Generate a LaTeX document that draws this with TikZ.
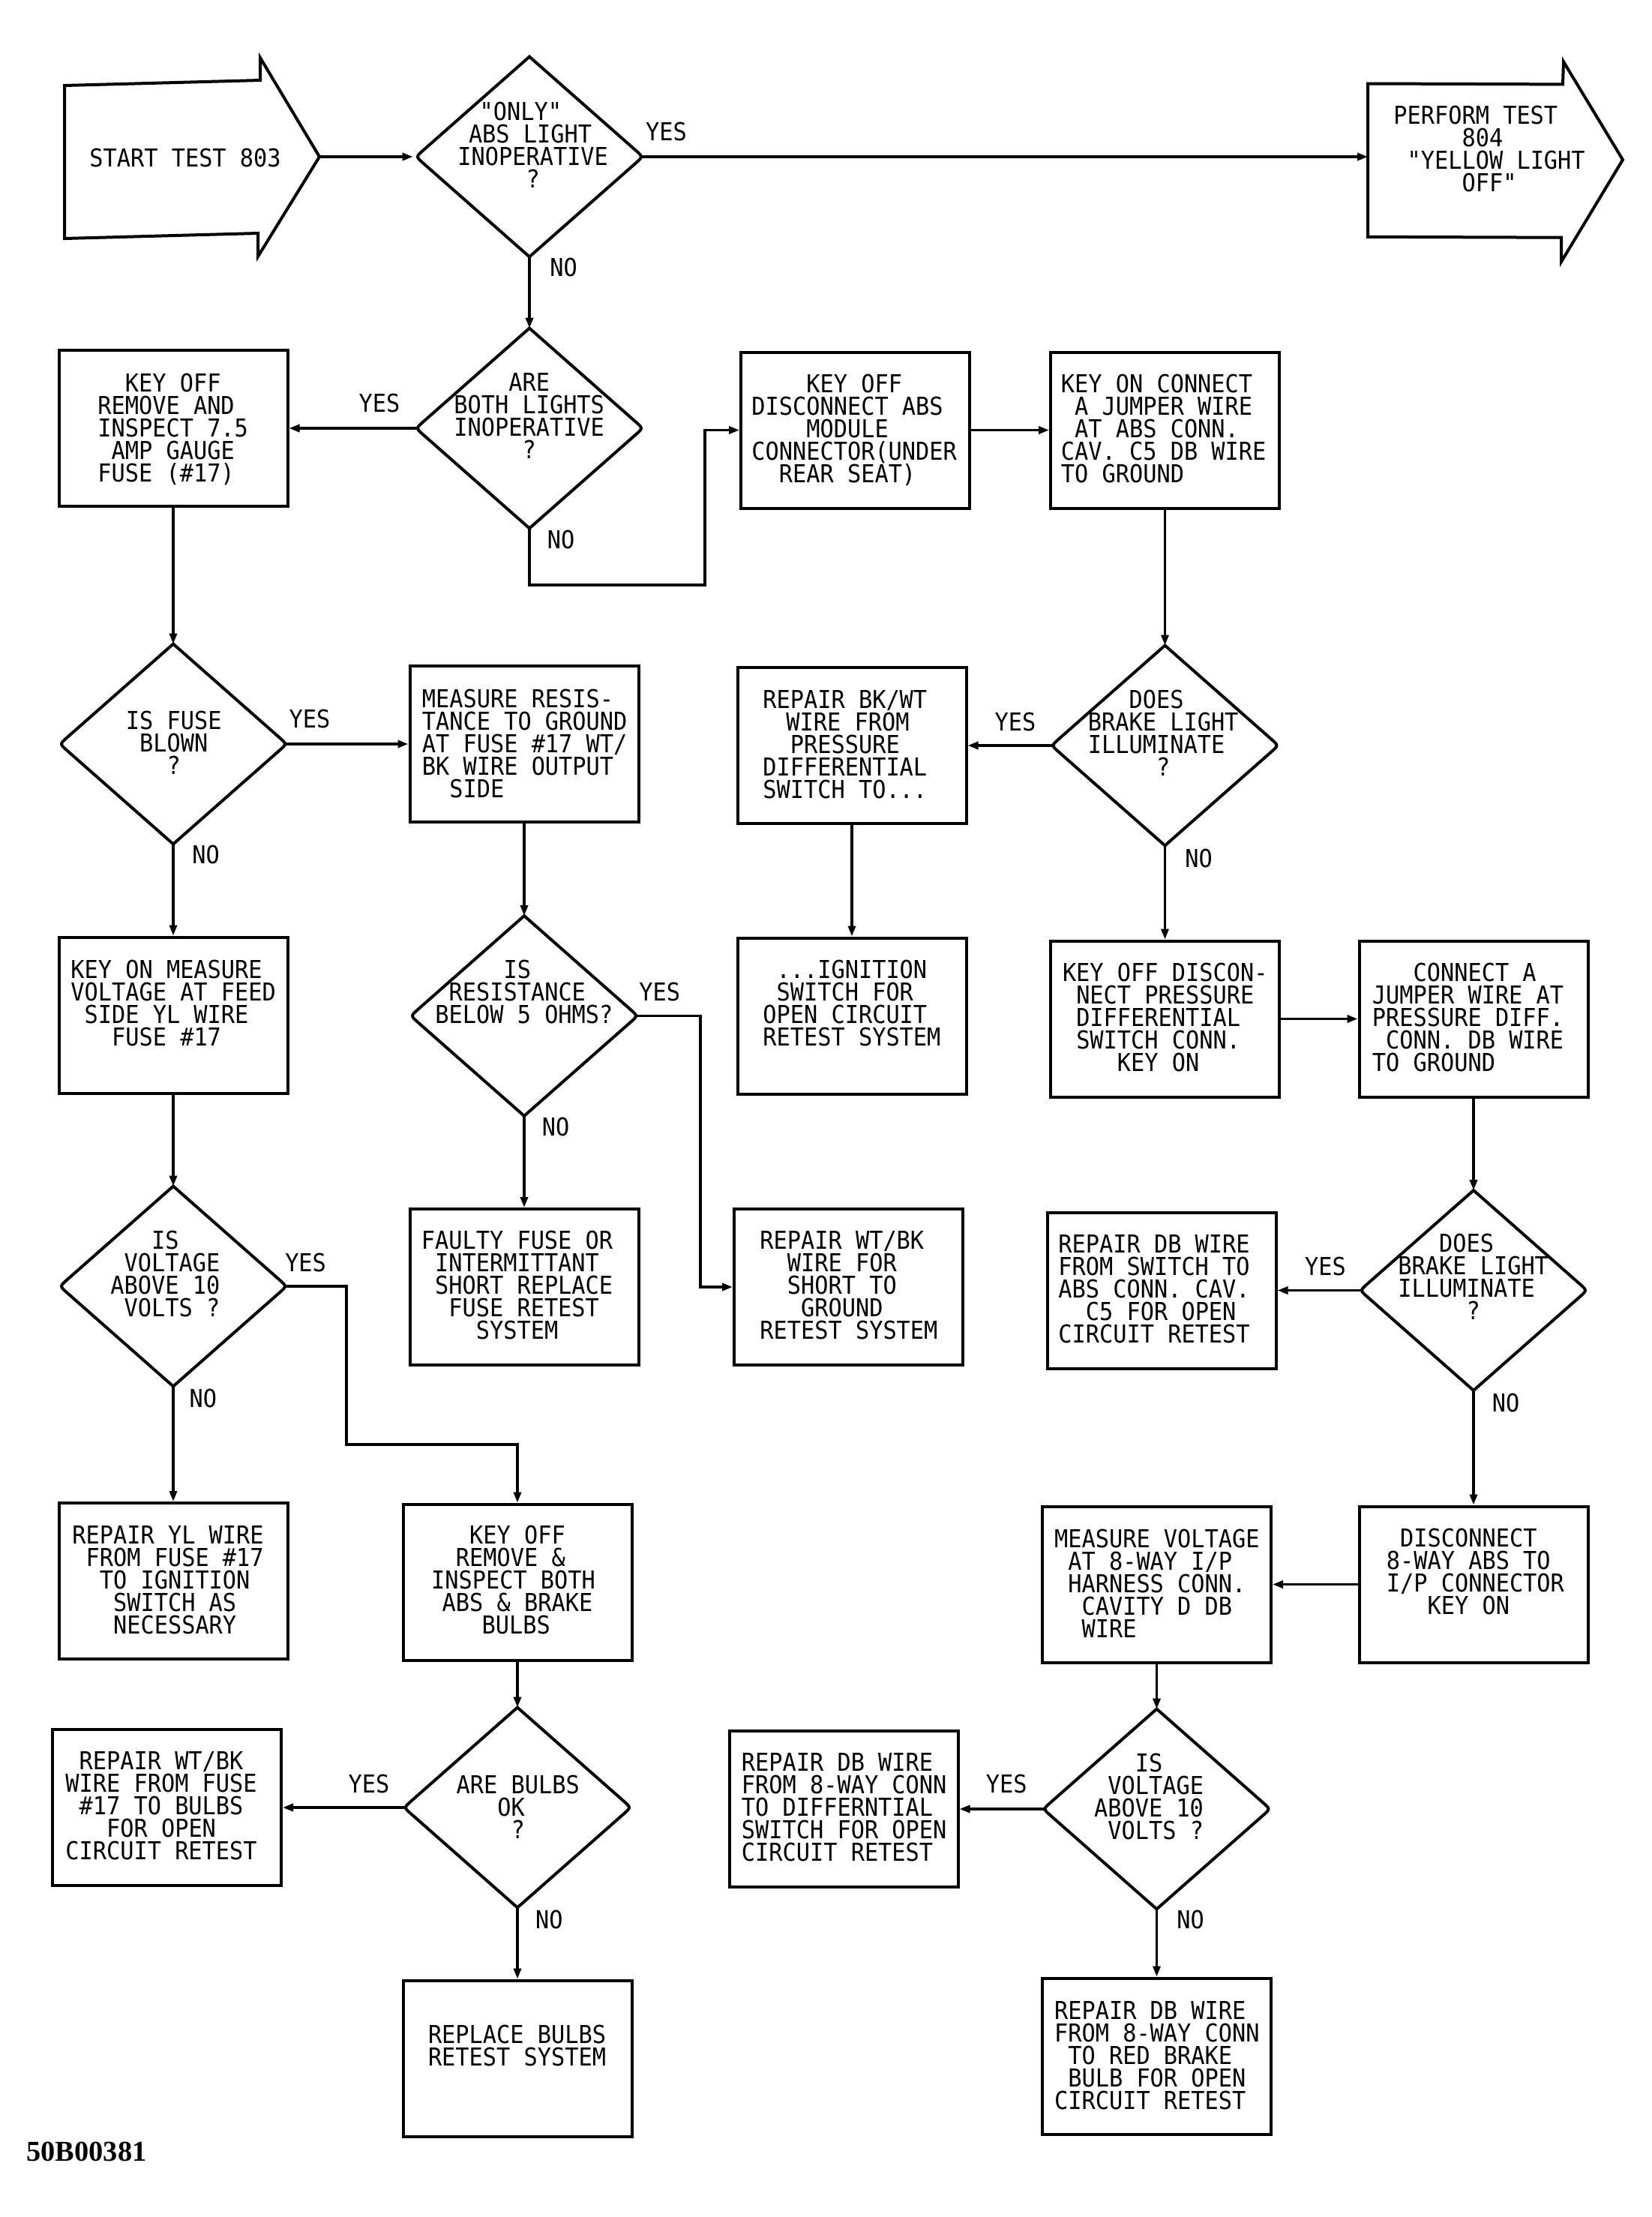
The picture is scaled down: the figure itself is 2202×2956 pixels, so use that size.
\documentclass[tikz,border=0pt]{standalone}
\usepackage{fontspec}
\usetikzlibrary{arrows.meta,calc,shapes.geometric}
\newfontfamily\cadfam{DejaVu Sans Mono}[FakeStretch=0.92]
\newfontfamily\codefam{Liberation Serif}
\newlength\chw
\setlength\chw{9.12pt}
\newcommand\cadfont{\cadfam\fontsize{16.46pt}{15pt}\selectfont\lineskiplimit=-50pt\lineskip=0pt\relax}
\newcommand\indc[1]{\hspace*{#1\chw}}
\newcommand\firstl{\rule{0pt}{0.8em}}
\newcommand\boxtxt[4]{\node[txt] (#1) at (#2-2,#3-14.34) {\firstl#4};}
\newcommand\diaout[1]{\draw[outl] (#1.north) -- ($(#1.west)!0.065!(#1.north)$) .. controls (#1.west) .. ($(#1.west)!0.065!(#1.south)$) -- (#1.south) -- ($(#1.east)!0.065!(#1.south)$) .. controls (#1.east) .. ($(#1.east)!0.065!(#1.north)$) -- cycle;}
\tikzset{
  outl/.style={line width=2pt, line join=miter},
  conn/.style={line width=1.7pt},
  arr/.style={conn, -{Triangle[length=7pt,width=5pt]}},
  box/.style={draw, line width=2pt, rectangle, inner sep=0pt, minimum width=152.5pt, minimum height=104pt},
  dia/.style={diamond, inner sep=0pt, minimum width=151pt, minimum height=133pt},
  txt/.style={inner sep=0pt, font=\cadfont, align=left, anchor=north west},
  lbl/.style={inner sep=0pt, font=\cadfont},
}
\begin{document}
\begin{tikzpicture}[x=0.5pt,y=-0.5pt]
\fill[white] (0,0) rectangle (2202,2956);
\useasboundingbox (0,0) rectangle (2202,2956);

% ---- start and end arrows
\draw[outl] (86,114) -- (347,107) -- (347,77) -- (426,209) -- (344,342) -- (344,311) -- (86,318) -- cycle;
\coordinate (stip) at (426,209);
\draw[outl] (1824,111.5) -- (2084,112.4) -- (2085,82.3) -- (2164,213) -- (2082,349) -- (2082,316.7) -- (1824,315.8) -- cycle;
\coordinate (pin) at (1824,209);

% ---- diamonds
\node[dia] (D1) at (706,209) {};
\node[dia] (D2) at (706,571) {};
\node[dia] (D3) at (231,992) {};
\node[dia] (D4) at (1553.5,994) {};
\node[dia] (D5) at (699,1354.5) {};
\node[dia] (D6) at (231,1715) {};
\node[dia] (D7) at (1965,1720.5) {};
\node[dia] (D8) at (690,2410) {};
\node[dia] (D9) at (1542.5,2412) {};
\foreach \d in {D1,D2,D3,D4,D5,D6,D7,D8,D9} {\diaout{\d}}

% ---- boxes
\node[box] (B1) at (231,571) {};
\node[box] (B2) at (1140.5,573.5) {};
\node[box] (B3) at (1553.5,573.5) {};
\node[box] (B4) at (699,992) {};
\node[box] (B5) at (1136,994) {};
\node[box] (B6) at (231,1353.5) {};
\node[box] (B7) at (1136,1354.5) {};
\node[box] (B8) at (1553.5,1358.5) {};
\node[box] (B9) at (1965,1358.5) {};
\node[box] (B10) at (699,1716) {};
\node[box] (B11) at (1131.5,1716) {};
\node[box] (B12) at (1549,1720.5) {};
\node[box] (B13) at (231,2108) {};
\node[box] (B14) at (690,2109.5) {};
\node[box] (B15) at (1542.5,2112.5) {};
\node[box] (B16) at (1965,2112.5) {};
\node[box] (B17) at (222.5,2410) {};
\node[box] (B18) at (1125,2412) {};
\node[box] (B19) at (690,2744.5) {};
\node[box] (B20) at (1542.5,2741.5) {};

% ---- bend points
\coordinate (k1) at (940,780);
\coordinate (k2) at (934,1500);
\coordinate (k3) at (462,1926);

% ---- connectors
\draw[arr, shorten >=2pt] (stip) -- (D1.west);
\draw[arr] ([xshift=-2pt]D1.east) -- (pin);
\draw[arr] (D1.south) -- (D2.north);
\draw[arr] ([xshift=2pt]D2.west) -- (B1.east);
\draw[arr] (D2.south) |- (k1) |- (B2.west);
\draw[arr] (B2.east) -- (B3.west);
\draw[arr] (B3.south) -- (D4.north);
\draw[arr] ([xshift=2pt]D4.west) -- (B5.east);
\draw[arr] (B5.south) -- (B7.north);
\draw[arr] (D4.south) -- (B8.north);
\draw[arr] (B8.east) -- (B9.west);
\draw[arr] (B9.south) -- (D7.north);
\draw[arr] ([xshift=2pt]D7.west) -- (B12.east);
\draw[arr] (D7.south) -- (B16.north);
\draw[arr] (B16.west) -- (B15.east);
\draw[arr] (B15.south) -- (D9.north);
\draw[arr] ([xshift=2pt]D9.west) -- (B18.east);
\draw[arr] (D9.south) -- (B20.north);
\draw[arr] (B1.south) -- (D3.north);
\draw[arr] ([xshift=-2pt]D3.east) -- (B4.west);
\draw[arr] (D3.south) -- (B6.north);
\draw[arr] (B4.south) -- (D5.north);
\draw[arr] ([xshift=-2pt]D5.east) -| (k2) |- (B11.west);
\draw[arr] (D5.south) -- (B10.north);
\draw[arr] (B6.south) -- (D6.north);
\draw[arr] ([xshift=-2pt]D6.east) -| (k3) -| (B14.north);
\draw[arr] (D6.south) -- (B13.north);
\draw[arr] (B14.south) -- (D8.north);
\draw[arr] ([xshift=2pt]D8.west) -- (B17.east);
\draw[arr] (D8.south) -- (B19.north);

% ---- YES / NO labels
\node[lbl] (yes1) at (888.5,176) {YES};
\node[lbl] (no1) at (751.7,356.5) {NO};
\node[lbl] (yes2) at (506,538) {YES};
\node[lbl] (no2) at (748,720) {NO};
\node[lbl] (yes3) at (413,958.7) {YES};
\node[lbl] (no3) at (274.7,1139.7) {NO};
\node[lbl] (yes4) at (1354,962.2) {YES};
\node[lbl] (no4) at (1598.5,1144.6) {NO};
\node[lbl] (yes5) at (879.7,1322) {YES};
\node[lbl] (no5) at (741,1502) {NO};
\node[lbl] (yes6) at (407.6,1683.8) {YES};
\node[lbl] (no6) at (270.8,1864.8) {NO};
\node[lbl] (yes7) at (1767.4,1688) {YES};
\node[lbl] (no7) at (2008,1870.4) {NO};
\node[lbl] (yes8) at (492,2378.6) {YES};
\node[lbl] (no8) at (732.4,2559.6) {NO};
\node[lbl] (yes9) at (1342.3,2378.6) {YES};
\node[lbl] (no9) at (1587.5,2559.6) {NO};

% ---- texts
\boxtxt{tS}{121}{210}{START TEST 803}
\boxtxt{tP}{1860}{153}{PERFORM TEST\\\indc{5}804\\\indc{1}"YELLOW LIGHT\\\indc{5}OFF"}
\boxtxt{tD1}{612}{148}{\indc{1.6}"ONLY"\\\indc{0.8}ABS LIGHT\\INOPERATIVE\\\indc{5}?}
\boxtxt{tD2}{607}{508.6}{\indc{4}ARE\\BOTH LIGHTS\\INOPERATIVE\\\indc{5}?}
\boxtxt{tD3}{169.5}{960}{IS FUSE\\\indc{1}BLOWN\\\indc{3}?}
\boxtxt{tD4}{1452.5}{932}{\indc{3}DOES\\BRAKE LIGHT\\ILLUMINATE\\\indc{5}?}
\boxtxt{tD5}{582}{1292}{\indc{5}IS\\\indc{1}RESISTANCE\\BELOW 5 OHMS?}
\boxtxt{tD6}{149}{1653}{\indc{3}IS\\\indc{1}VOLTAGE\\ABOVE 10\\\indc{1}VOLTS ?}
\boxtxt{tD7}{1866}{1656.8}{\indc{3}DOES\\BRAKE LIGHT\\ILLUMINATE\\\indc{5}?}
\boxtxt{tD8}{610.3}{2378.6}{ARE BULBS\\\indc{3}OK\\\indc{4}?}
\boxtxt{tD9}{1460.7}{2349.6}{\indc{3}IS\\\indc{1}VOLTAGE\\ABOVE 10\\\indc{1}VOLTS ?}

\boxtxt{tB1}{132}{510}{\indc{2}KEY OFF\\REMOVE AND\\INSPECT 7.5\\\indc{1}AMP GAUGE\\FUSE (\#17)}
\boxtxt{tB2}{1004}{511}{\indc{4}KEY OFF\\DISCONNECT ABS\\\indc{4}MODULE\\CONNECTOR(UNDER\\\indc{2}REAR SEAT)}
\boxtxt{tB3}{1416.5}{511}{KEY ON CONNECT\\\indc{1}A JUMPER WIRE\\\indc{1}AT ABS CONN.\\CAV. C5 DB WIRE\\TO GROUND}
\boxtxt{tB4}{564.5}{930.6}{MEASURE RESIS-\\TANCE TO GROUND\\AT FUSE \#17 WT/\\BK WIRE OUTPUT\\\indc{2}SIDE}
\boxtxt{tB5}{1019}{932}{REPAIR BK/WT\\\indc{1.7}WIRE FROM\\\indc{2}PRESSURE\\DIFFERENTIAL\\SWITCH TO...}
\boxtxt{tB6}{96}{1292}{KEY ON MEASURE\\VOLTAGE AT FEED\\\indc{1}SIDE YL WIRE\\\indc{3}FUSE \#17}
\boxtxt{tB7}{1019}{1292}{\indc{1}...IGNITION\\\indc{1}SWITCH FOR\\OPEN CIRCUIT\\RETEST SYSTEM}
\boxtxt{tB8}{1418.6}{1296}{KEY OFF DISCON-\\\indc{1}NECT PRESSURE\\\indc{1}DIFFERENTIAL\\\indc{1}SWITCH CONN.\\\indc{4}KEY ON}
\boxtxt{tB9}{1831.5}{1296}{\indc{3}CONNECT A\\JUMPER WIRE AT\\PRESSURE DIFF.\\\indc{1}CONN. DB WIRE\\TO GROUND}
\boxtxt{tB10}{563.5}{1653}{FAULTY FUSE OR\\\indc{1}INTERMITTANT\\\indc{1}SHORT REPLACE\\\indc{2}FUSE RETEST\\\indc{4}SYSTEM}
\boxtxt{tB11}{1015}{1653}{REPAIR WT/BK\\\indc{2}WIRE FOR\\\indc{2}SHORT TO\\\indc{3}GROUND\\RETEST SYSTEM}
\boxtxt{tB12}{1413}{1658.5}{REPAIR DB WIRE\\FROM SWITCH TO\\ABS CONN. CAV.\\\indc{2}C5 FOR OPEN\\CIRCUIT RETEST}
\boxtxt{tB13}{98}{2046}{REPAIR YL WIRE\\\indc{1}FROM FUSE \#17\\\indc{2}TO IGNITION\\\indc{3}SWITCH AS\\\indc{3}NECESSARY}
\boxtxt{tB14}{576.7}{2046}{\indc{2.8}KEY OFF\\\indc{1.8}REMOVE \&\\INSPECT BOTH\\\indc{0.8}ABS \& BRAKE\\\indc{3.7}BULBS}
\boxtxt{tB15}{1407.7}{2050.8}{MEASURE VOLTAGE\\\indc{1}AT 8-WAY I/P\\\indc{1}HARNESS CONN.\\\indc{2}CAVITY D DB\\\indc{2}WIRE}
\boxtxt{tB16}{1850.5}{2050.5}{\indc{1}DISCONNECT\\8-WAY ABS TO\\I/P CONNECTOR\\\indc{3}KEY ON}
\boxtxt{tB17}{89}{2347}{\indc{1}REPAIR WT/BK\\WIRE FROM FUSE\\\indc{1}\#17 TO BULBS\\\indc{3}FOR OPEN\\CIRCUIT RETEST}
\boxtxt{tB18}{990.5}{2349}{REPAIR DB WIRE\\FROM 8-WAY CONN\\TO DIFFERNTIAL\\SWITCH FOR OPEN\\CIRCUIT RETEST}
\boxtxt{tB19}{572.6}{2712}{REPLACE BULBS\\RETEST SYSTEM}
\boxtxt{tB20}{1407.7}{2680}{REPAIR DB WIRE\\FROM 8-WAY CONN\\\indc{1}TO RED BRAKE\\\indc{1}BULB FOR OPEN\\CIRCUIT RETEST}

\node[inner sep=0pt, anchor=base west, font=\codefam\bfseries\fontsize{19.2pt}{20pt}\selectfont] (code) at (35,2881.6) {50B00381};
\end{tikzpicture}
\end{document}
